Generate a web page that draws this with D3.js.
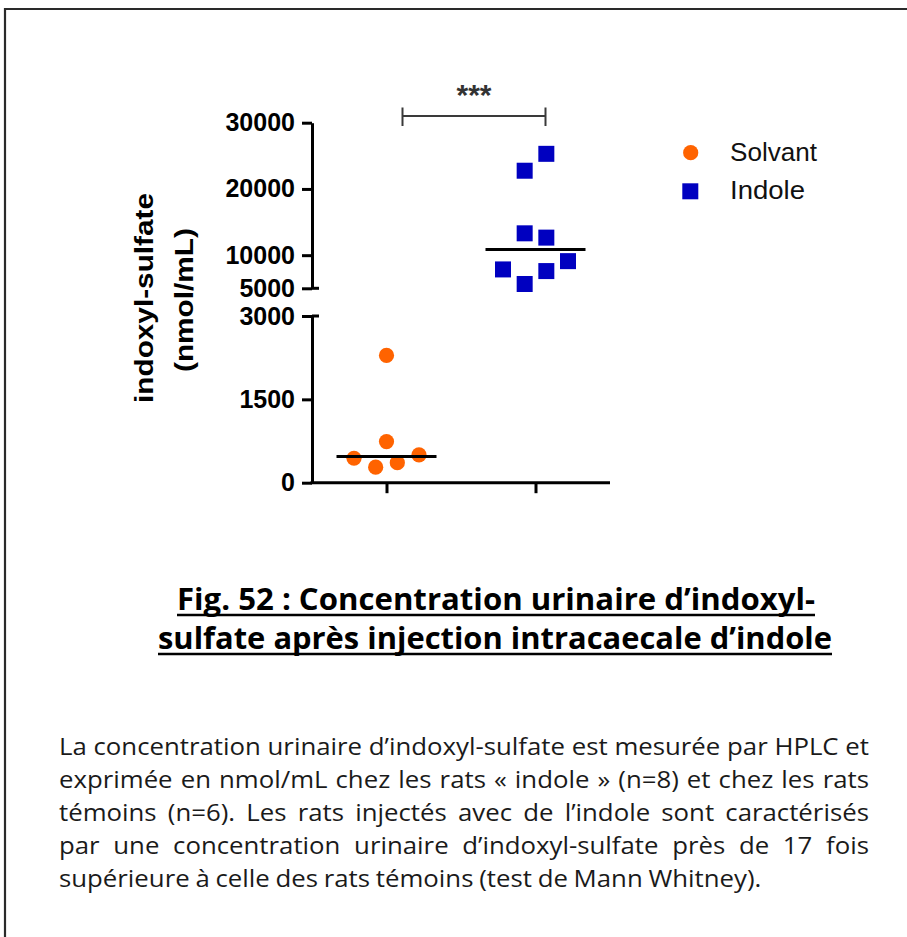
<!DOCTYPE html>
<html>
<head>
<meta charset="utf-8">
<script src="https://cdn.jsdelivr.net/npm/d3@7"></script>
<style>
  html, body { margin: 0; padding: 0; background: #fff; }
  svg { display: block; }
</style>
</head>
<body>
<svg id="chart" width="907" height="937"></svg>
<script>
// ---------------- data ----------------
const groups = ["Solvant", "Indole"];
const solvantValues = [2290, 740, 500, 440, 360, 280];
const solvantSlots  = [0, 0, 1.5, -1.5, 0.5, -0.5];      // swarm column index
const indoleValues  = [25300, 22750, 13300, 12650, 9100, 7850, 7600, 5650];
const indoleSlots   = [0.5, -0.5, -0.5, 0.5, 1.5, -1.5, 0.5, -0.5];
const upperTicks = [5000, 10000, 20000, 30000];
const lowerTicks = [0, 1500, 3000];
const breakLow = 3000, breakHigh = 5000, yMax = 30000;
const significance = "***";
const yLabelLines = ["indoxyl-sulfate", "(nmol/mL)"];
const titleLines = [
  "Fig. 52 : Concentration urinaire d\u2019indoxyl-",
  "sulfate apr\u00e8s injection intracaecale d\u2019indole"
];
const captionLines = [
  "La concentration urinaire d\u2019indoxyl-sulfate est mesur\u00e9e par HPLC et",
  "exprim\u00e9e en nmol/mL chez les rats \u00ab indole \u00bb (n=8) et chez les rats",
  "t\u00e9moins (n=6). Les rats inject\u00e9s avec de l\u2019indole sont caract\u00e9ris\u00e9s",
  "par une concentration urinaire d\u2019indoxyl-sulfate pr\u00e8s de 17 fois",
  "sup\u00e9rieure \u00e0 celle des rats t\u00e9moins (test de Mann Whitney)."
];

// ---------------- setup ----------------
const svg = d3.select("#chart");
const ORANGE = "#ff6300", BLUE = "#0000c0";
const AX = "Liberation Sans, Arial, sans-serif";
const BODY = "Open Sans, sans-serif";

// frame
svg.append("path").attr("d", "M5,937 L5,9 L907,9")
  .attr("fill", "none").attr("stroke", "#2a2a2a").attr("stroke-width", 2.2);

// scales
const axisX = 312, xEnd = 610, yZero = 482.7;
const x = d3.scalePoint().domain(groups).range([axisX, xEnd]).padding(0.5);
const yLower = d3.scaleLinear().domain([0, breakLow]).range([yZero, 316]);
const yUpper = d3.scaleLinear().domain([breakHigh, yMax]).range([288.3, 122.7]);
const yPos = v => v > breakLow ? yUpper(v) : yLower(v);
const slot = d3.scaleLinear().domain([-1.5, 1.5]).range([-32.5, 32.5]);

// axes
function styleAxis(g) {
  g.selectAll("path.domain").attr("stroke", "#000").attr("stroke-width", 3);
  g.selectAll(".tick line").attr("stroke", "#000").attr("stroke-width", 3);
  g.selectAll(".tick text").attr("font-family", AX).attr("font-weight", "bold")
    .attr("font-size", 25).attr("fill", "#000");
}
const fmt = d3.format("d");
const gUp = svg.append("g").attr("transform", `translate(${axisX},0)`)
  .call(d3.axisLeft(yUpper).tickValues(upperTicks).tickFormat(fmt).tickSize(10).tickSizeOuter(0).tickPadding(7));
styleAxis(gUp);
const gLo = svg.append("g").attr("transform", `translate(${axisX},0)`)
  .call(d3.axisLeft(yLower).tickValues(lowerTicks).tickFormat(fmt).tickSize(10).tickSizeOuter(0).tickPadding(7));
styleAxis(gLo);
// break ticks extend to the right
[yUpper(breakHigh), yLower(breakLow)].forEach(yy => {
  svg.append("line").attr("x1", axisX).attr("x2", axisX + 7)
    .attr("y1", yy).attr("y2", yy).attr("stroke", "#000").attr("stroke-width", 3);
});
const gX = svg.append("g").attr("transform", `translate(0,${yZero})`)
  .call(d3.axisBottom(x).tickFormat("").tickSize(10.5).tickSizeOuter(0));
styleAxis(gX);
gX.select("path.domain").attr("d", `M${axisX - 1.5},0H${xEnd}`);

// y label
yLabelLines.forEach((t, i) => {
  const cx = [153, 193][i], cy = [298, 300][i], len = [210, 144][i];
  svg.append("text")
    .attr("transform", `translate(${cx},${cy}) rotate(-90)`)
    .attr("text-anchor", "middle")
    .attr("font-family", AX).attr("font-weight", "bold").attr("font-size", 26)
    .attr("textLength", len).attr("lengthAdjust", "spacingAndGlyphs")
    .text(t);
});

// points
const data = [
  { g: "Solvant", values: solvantValues, slots: solvantSlots },
  { g: "Indole", values: indoleValues, slots: indoleSlots }
];
const s0 = data[0];
svg.append("g").selectAll("circle").data(s0.values).join("circle")
  .attr("cx", (d, i) => x(s0.g) + slot(s0.slots[i]))
  .attr("cy", d => yPos(d))
  .attr("r", 7.6).attr("fill", ORANGE);
const s1 = data[1];
const sq = 16;
svg.append("g").selectAll("rect").data(s1.values).join("rect")
  .attr("x", (d, i) => x(s1.g) + slot(s1.slots[i]) - sq / 2)
  .attr("y", d => yPos(d) - sq / 2)
  .attr("width", sq).attr("height", sq).attr("fill", BLUE);

// median lines
data.forEach(s => {
  const m = d3.median(s.values);
  svg.append("line")
    .attr("x1", x(s.g) - 50).attr("x2", x(s.g) + 50)
    .attr("y1", yPos(m)).attr("y2", yPos(m))
    .attr("stroke", "#000").attr("stroke-width", 3);
});

// significance bracket
const bx1 = x("Solvant") + 16, bx2 = x("Indole") + 10, by = 116;
svg.append("path")
  .attr("d", `M${bx1},${by - 8.5}V${by + 10}M${bx1},${by}H${bx2}M${bx2},${by - 8.5}V${by + 10}`)
  .attr("fill", "none").attr("stroke", "#3a3a3a").attr("stroke-width", 2);
svg.append("text").attr("x", (bx1 + bx2) / 2).attr("y", 104.5)
  .attr("text-anchor", "middle").attr("font-family", AX).attr("font-weight", "bold")
  .attr("font-size", 30).attr("fill", "#333").text(significance);

// legend
const lg = svg.append("g");
lg.append("circle").attr("cx", 690.7).attr("cy", 152.7).attr("r", 7.6).attr("fill", ORANGE);
lg.append("rect").attr("x", 690.3 - 8).attr("y", 191.3 - 8).attr("width", 16).attr("height", 16).attr("fill", BLUE);
groups.forEach((g, i) => {
  lg.append("text").attr("x", 730).attr("y", [160.5, 198.5][i])
    .attr("font-family", AX).attr("font-size", 25).attr("fill", "#111")
    .attr("textLength", [87, 75][i]).attr("lengthAdjust", "spacingAndGlyphs")
    .text(g);
});

// title
const titleSpans = [[177, 815, 610], [158, 832, 649]];
titleLines.forEach((t, i) => {
  const [x1, x2, yb] = titleSpans[i];
  svg.append("text").attr("x", x1).attr("y", yb)
    .attr("font-family", BODY).attr("font-weight", "bold").attr("font-size", 30)
    .attr("fill", "#000")
    .attr("textLength", x2 - x1).attr("lengthAdjust", "spacingAndGlyphs")
    .text(t);
  svg.append("line").attr("x1", x1).attr("x2", x2)
    .attr("y1", yb + 5).attr("y2", yb + 5)
    .attr("stroke", "#000").attr("stroke-width", 2.4);
});

// caption (justified)
const capLeft = 59, capRight = 869, capFs = 23;
const capBase = [755, 788, 821, 854, 887];
const measure = svg.append("text").attr("font-family", BODY).attr("font-size", capFs).attr("x", -2000).attr("y", -2000);
const widthOf = s => { measure.text(s); return measure.node().getComputedTextLength(); };
const W1 = widthOf(captionLines[0]);
const sx = (capRight - capLeft) / W1;
const spaceW = widthOf("a a") - widthOf("aa");
const cap = svg.append("g").attr("transform", `translate(${capLeft},0) scale(${sx},1)`);
captionLines.forEach((line, i) => {
  const words = line.split(" ");
  const ws = words.map(widthOf);
  const total = d3.sum(ws);
  const last = i === captionLines.length - 1;
  const gap = last ? spaceW * 0.85 : (W1 - total) / (words.length - 1);
  let cx = 0;
  const t = cap.append("text").attr("y", capBase[i])
    .attr("font-family", BODY).attr("font-size", capFs).attr("fill", "#1a1a1a");
  words.forEach((w, k) => {
    t.append("tspan").attr("x", cx).text(w);
    cx += ws[k] + gap;
  });
});
measure.remove();
</script>
</body>
</html>
